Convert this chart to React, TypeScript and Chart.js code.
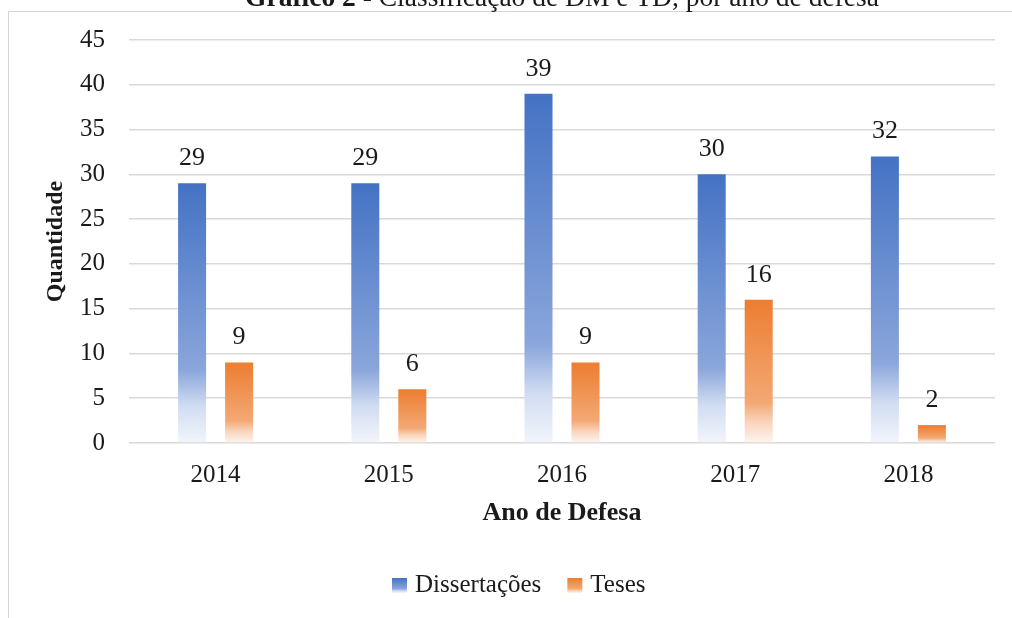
import React, { useEffect, useRef } from "react";
import { Chart, registerables } from "chart.js";

Chart.register(...registerables);

const categories = ["2014", "2015", "2016", "2017", "2018"];
const dissertacoes = [29, 29, 39, 30, 32];
const teses = [9, 6, 9, 16, 2];
const seriesLabels = ["Dissertações", "Teses"];
const yMin = 0;
const yMax = 45;
const yStep = 5;
const titleBold = "Gráfico 2";
const titleRest = " - Classificação de DM e TD, por ano de defesa";
const yAxisTitle = "Quantidade";
const xAxisTitle = "Ano de Defesa";

const FONT = "'Liberation Serif', 'Times New Roman', serif";
const TEXT = "#1a1a1a";

type Stop = [number, string];
const blueStops: Stop[] = [
  [0, "#4472C4"],
  [0.72, "#8AA6DB"],
  [0.86, "#D2DDF2"],
  [1, "#F2F5FB"],
];
const orangeStops: Stop[] = [
  [0, "#ED7D31"],
  [0.72, "#F3A874"],
  [0.86, "#F9D6BE"],
  [1, "#FEF5EF"],
];

function makeGradient(g: CanvasRenderingContext2D, stops: Stop[], top: number, bottom: number) {
  const gr = g.createLinearGradient(0, top, 0, bottom);
  stops.forEach(([o, c]) => gr.addColorStop(o, c));
  return gr;
}

function barFill(stops: Stop[]) {
  return (ctx: any) => {
    const chart = ctx.chart;
    const y = chart.scales && chart.scales.y;
    if (ctx.type !== "data" || !y || !chart.chartArea) return stops[0][1];
    const top = y.getPixelForValue(ctx.raw);
    const base = y.getPixelForValue(0);
    if (!isFinite(top) || !isFinite(base) || top === base) return stops[0][1];
    return makeGradient(chart.ctx, stops, top, base);
  };
}

const decorPlugin = {
  id: "decor",
  beforeDraw(chart: any) {
    const g: CanvasRenderingContext2D = chart.ctx;
    g.save();
    g.fillStyle = "#ffffff";
    g.fillRect(0, 0, chart.width, chart.height);
    // frame
    g.strokeStyle = "#d4d4d4";
    g.lineWidth = 1;
    g.beginPath();
    g.moveTo(8.5, chart.height);
    g.lineTo(8.5, 11.5);
    g.lineTo(chart.width, 11.5);
    g.stroke();
    // title
    const cx = (chart.chartArea.left + chart.chartArea.right) / 2;
    const fs = 27.5;
    g.font = `bold ${fs}px ${FONT}`;
    const wb = g.measureText(titleBold).width;
    g.font = `${fs}px ${FONT}`;
    const wr = g.measureText(titleRest).width;
    let x = cx - (wb + wr) / 2;
    g.fillStyle = TEXT;
    g.textBaseline = "alphabetic";
    g.textAlign = "left";
    g.font = `bold ${fs}px ${FONT}`;
    g.fillText(titleBold, x, 6);
    g.font = `${fs}px ${FONT}`;
    g.fillText(titleRest, x + wb, 6);
    g.restore();
  },
  afterDatasetsDraw(chart: any) {
    const g: CanvasRenderingContext2D = chart.ctx;
    g.save();
    g.font = `26px ${FONT}`;
    g.fillStyle = TEXT;
    g.textAlign = "center";
    g.textBaseline = "middle";
    chart.data.datasets.forEach((ds: any, di: number) => {
      const meta = chart.getDatasetMeta(di);
      meta.data.forEach((el: any, i: number) => {
        g.fillText(String(ds.data[i]), el.x, el.y - 25);
      });
    });
    g.restore();
  },
  afterDraw(chart: any) {
    const g: CanvasRenderingContext2D = chart.ctx;
    g.save();
    g.font = `25px ${FONT}`;
    g.textBaseline = "middle";
    g.textAlign = "left";
    const stopsList = [blueStops, orangeStops];
    let x = 392;
    const yTop = 578;
    const box = 15;
    chart.data.datasets.forEach((ds: any, di: number) => {
      g.fillStyle = makeGradient(g, stopsList[di], yTop, yTop + box);
      g.fillRect(x, yTop, box, box);
      g.fillStyle = TEXT;
      g.fillText(ds.label, x + box + 8, yTop + box / 2);
      x += box + 8 + g.measureText(ds.label).width + 26;
    });
    g.restore();
  },
};

export default function App() {
  const ref = useRef<HTMLCanvasElement | null>(null);
  useEffect(() => {
    if (!ref.current) return;
    const chart = new Chart(ref.current, {
      type: "bar",
      data: {
        labels: categories,
        datasets: [
          {
            label: seriesLabels[0],
            data: dissertacoes,
            backgroundColor: barFill(blueStops),
            borderWidth: 0,
            categoryPercentage: 0.543,
            barPercentage: 0.596,
          },
          {
            label: seriesLabels[1],
            data: teses,
            backgroundColor: barFill(orangeStops),
            borderWidth: 0,
            categoryPercentage: 0.543,
            barPercentage: 0.596,
          },
        ],
      },
      options: {
        responsive: false,
        animation: false,
        devicePixelRatio: 1,
        layout: { padding: { top: 40, left: 0, right: 17, bottom: 0 } },
        plugins: {
          legend: { display: false },
          tooltip: { enabled: false },
          title: { display: false },
        },
        scales: {
          x: {
            grid: { display: false, drawTicks: false },
            border: { display: false },
            ticks: { font: { family: FONT, size: 25 }, color: TEXT, padding: 17 },
            title: {
              display: true,
              text: xAxisTitle,
              font: { family: FONT, size: 26, weight: "bold" },
              color: TEXT,
              padding: { top: 0, bottom: 89 },
            },
            afterFit: (s: any) => {
              s.height = 175;
            },
          },
          y: {
            min: yMin,
            max: yMax,
            ticks: {
              stepSize: yStep,
              font: { family: FONT, size: 25 },
              color: TEXT,
              padding: 24,
            },
            grid: { color: "#d9d9d9", lineWidth: 1.5, drawTicks: false },
            border: { display: false },
            title: {
              display: true,
              text: yAxisTitle,
              font: { family: FONT, size: 24, weight: "bold" },
              color: TEXT,
              padding: { top: 41, bottom: 0 },
            },
            afterFit: (s: any) => {
              s.width = 129;
            },
          },
        },
      },
      plugins: [decorPlugin],
    });
    return () => chart.destroy();
  }, []);
  return (
    <div style={{ position: "absolute", left: 0, top: 0, width: 1012, height: 618 }}>
      <canvas ref={ref} width={1012} height={618} style={{ width: 1012, height: 618, display: "block" }} />
    </div>
  );
}
